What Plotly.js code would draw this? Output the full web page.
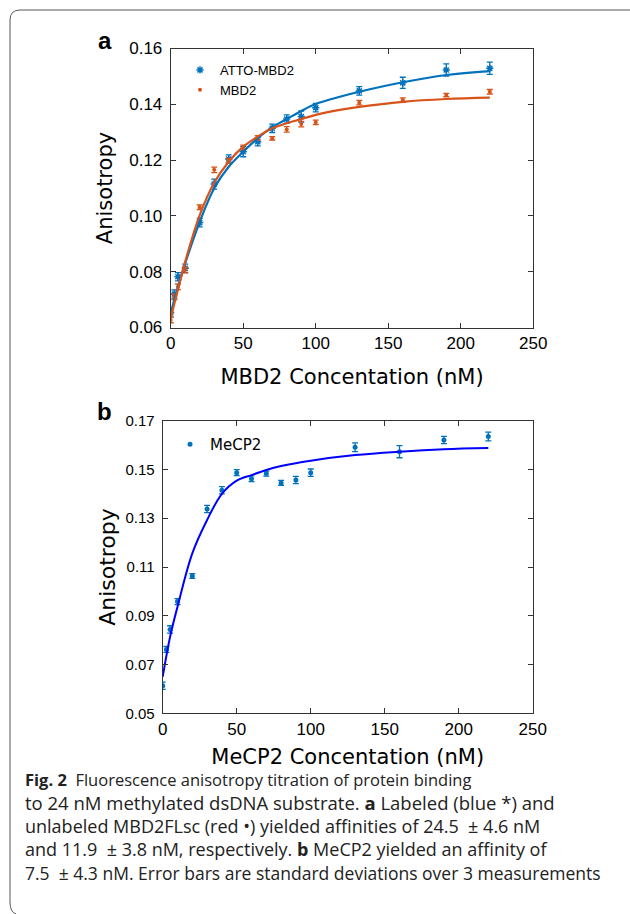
<!DOCTYPE html>
<html>
<head>
<meta charset="utf-8">
<script src="https://cdn.plot.ly/plotly-3.0.1.min.js"></script>
<style>html,body{margin:0;padding:0;background:#fff;}#chart{width:630px;height:914px;}</style>
</head>
<body>
<div id="chart"></div>
<script>
// ---------- Panel a data ----------
const concA = [0, 2.5, 5, 10, 20, 30, 40, 50, 60, 70, 80, 90, 100, 130, 160, 190, 220];
const attoMBD2 = [0.0653, 0.0720, 0.0782, 0.0812, 0.0976, 0.1114, 0.1204, 0.1230, 0.1266, 0.1314, 0.1347, 0.1356, 0.1388, 0.1448, 0.1477, 0.1523, 0.1529];
const attoErr  = [0.0015, 0.0015, 0.0015, 0.0015, 0.0015, 0.0018, 0.0015, 0.0018, 0.0015, 0.0015, 0.0015, 0.0020, 0.0015, 0.0015, 0.0020, 0.0022, 0.0022];
const mbd2 = [0.0627, 0.0710, 0.0746, 0.0806, 0.1031, 0.1165, 0.1198, 0.1246, 0.1280, 0.1278, 0.1310, 0.1329, 0.1335, 0.1406, 0.1415, 0.1433, 0.1445];
const mbd2Err = [0.0010, 0.0010, 0.0010, 0.0010, 0.0008, 0.0010, 0.0008, 0.0008, 0.0008, 0.0006, 0.0010, 0.0010, 0.0008, 0.0008, 0.0008, 0.0006, 0.0008];
// fitted curves
const fitAx = [0, 2.5, 5, 10, 20, 30, 40, 50, 60, 70, 80, 90, 100, 116.6, 130, 160, 190, 220];
const fitAtto = [0.0650, 0.0700, 0.0745, 0.0830, 0.0979, 0.1099, 0.1176, 0.1230, 0.1278, 0.1318, 0.1347, 0.1376, 0.1401, 0.1427, 0.1445, 0.1479, 0.1505, 0.1519];
const fitMbd2 = [0.0630, 0.0685, 0.0735, 0.0836, 0.1003, 0.1119, 0.1194, 0.1248, 0.1284, 0.1314, 0.1332, 0.1347, 0.1362, 0.1380, 0.1391, 0.1409, 0.1419, 0.1424];

// ---------- Panel b data ----------
const concB = [0, 2.5, 5, 10, 20, 30, 40, 50, 60, 70, 80, 90, 100, 130, 160, 190, 220];
const mecp2 = [0.0613, 0.0762, 0.0844, 0.0958, 0.1063, 0.1338, 0.1415, 0.1487, 0.1462, 0.1483, 0.1445, 0.1457, 0.1487, 0.1591, 0.1573, 0.1621, 0.1635];
const mecp2Err = [0.0015, 0.0012, 0.0015, 0.0012, 0.0010, 0.0015, 0.0015, 0.0012, 0.0012, 0.0010, 0.0010, 0.0015, 0.0015, 0.0018, 0.0025, 0.0015, 0.0018];
const fitBx = [0, 5, 10, 20, 30, 40, 50, 60, 70, 80, 100, 130, 160, 190, 220];
const fitMecp2 = [0.0650, 0.0814, 0.0937, 0.1156, 0.1293, 0.1400, 0.1454, 0.1477, 0.1498, 0.1514, 0.1536, 0.1559, 0.1573, 0.1583, 0.1588];

const xTicks = [0, 50, 100, 150, 200, 250];

const W = 630, H = 914;
const px = v => v / W;
const py = v => 1 - v / H;

const BLUE = '#0072BD', RED = '#D95319';
const tickFont = {family: 'Liberation Sans, Arial, sans-serif', size: 17, color: '#000'};
const titleFont = {family: 'DejaVu Sans, sans-serif', size: 21, color: '#000'};

const traces = [
  {x: concA, y: attoMBD2, type: 'scatter', mode: 'markers', name: 'ATTO-MBD2',
   xaxis: 'x', yaxis: 'y', legend: 'legend',
   marker: {symbol: 'asterisk-open', size: 6, color: BLUE, line: {color: BLUE, width: 1.5}},
   error_y: {type: 'data', array: attoErr, visible: true, color: BLUE, thickness: 1.3, width: 3}},
  {x: concA, y: mbd2, type: 'scatter', mode: 'markers', name: 'MBD2',
   xaxis: 'x', yaxis: 'y', legend: 'legend',
   marker: {symbol: 'circle', size: 4, color: RED},
   error_y: {type: 'data', array: mbd2Err, visible: true, color: RED, thickness: 1.3, width: 3}},
  {x: fitAx, y: fitAtto, type: 'scatter', mode: 'lines', showlegend: false, hoverinfo: 'skip',
   xaxis: 'x', yaxis: 'y', line: {color: BLUE, width: 2.2, shape: 'spline'}},
  {x: fitAx, y: fitMbd2, type: 'scatter', mode: 'lines', showlegend: false, hoverinfo: 'skip',
   xaxis: 'x', yaxis: 'y', line: {color: RED, width: 2.2, shape: 'spline'}},
  {x: concB, y: mecp2, type: 'scatter', mode: 'markers', name: 'MeCP2',
   xaxis: 'x2', yaxis: 'y2', legend: 'legend2',
   marker: {symbol: 'circle', size: 5, color: BLUE},
   error_y: {type: 'data', array: mecp2Err, visible: true, color: BLUE, thickness: 1.3, width: 3}},
  {x: fitBx, y: fitMecp2, type: 'scatter', mode: 'lines', showlegend: false, hoverinfo: 'skip',
   xaxis: 'x2', yaxis: 'y2', line: {color: '#0000FF', width: 2, shape: 'spline'}}
];

function axisBase() {
  return {
    showgrid: false, zeroline: false, showline: true, linecolor: '#333', linewidth: 1,
    mirror: 'ticks', ticks: 'inside', ticklen: 5, tickwidth: 1, tickcolor: '#333',
    tickfont: tickFont
  };
}

const layout = {
  width: W, height: H,
  margin: {l: 0, r: 0, t: 0, b: 0},
  paper_bgcolor: '#fff', plot_bgcolor: '#fff',
  showlegend: true,
  xaxis: Object.assign(axisBase(), {
    domain: [px(170.7), px(533.3)], range: [0, 250], tickvals: xTicks, anchor: 'y',
    title: {text: 'MBD2 Concentation (nM)', font: titleFont, standoff: 17}
  }),
  yaxis: Object.assign(axisBase(), {
    domain: [py(327.5), py(48.5)], range: [0.06, 0.16], tick0: 0.06, dtick: 0.02, tickformat: '.2f', anchor: 'x',
    ticklabelstandoff: 4,
    title: {text: 'Anisotropy', font: titleFont, standoff: 10}
  }),
  xaxis2: Object.assign(axisBase(), {
    domain: [px(162.7), px(532.7)], range: [0, 250], tickvals: xTicks, anchor: 'y2',
    title: {text: 'MeCP2 Concentation (nM)', font: titleFont, standoff: 11}
  }),
  yaxis2: Object.assign(axisBase(), {
    domain: [py(713.3), py(420.7)], range: [0.05, 0.17], tick0: 0.05, dtick: 0.02, tickformat: '.2f', anchor: 'x2',
    tickfont: {family: 'Liberation Sans, Arial, sans-serif', size: 15, color: '#000'},
    ticklabelstandoff: 4,
    title: {text: 'Anisotropy', font: {family: 'DejaVu Sans, sans-serif', size: 22, color: '#000'}, standoff: 3}
  }),
  legend: {x: px(180), y: py(55), xanchor: 'left', yanchor: 'top', bgcolor: 'rgba(0,0,0,0)',
           font: {family: 'Liberation Sans, Arial, sans-serif', size: 13, color: '#000'},
           tracegroupgap: 0, itemwidth: 30},
  legend2: {x: px(170), y: py(428), xanchor: 'left', yanchor: 'top', bgcolor: 'rgba(0,0,0,0)',
            font: {family: 'DejaVu Sans, sans-serif', size: 15, color: '#000'}, itemwidth: 30},
  shapes: [
    {type: 'path', xref: 'paper', yref: 'paper',
     path: 'M ' + px(630) + ' ' + py(10) + ' L ' + px(20) + ' ' + py(10) +
           ' Q ' + px(10) + ' ' + py(10) + ' ' + px(10) + ' ' + py(20) +
           ' L ' + px(10) + ' ' + py(902) +
           ' Q ' + px(10) + ' ' + py(912) + ' ' + px(16) + ' ' + py(914),
     line: {color: '#555', width: 1}}
  ],
  annotations: []
};

// panel letters
layout.annotations.push({text: '<b>a</b>', xref: 'paper', yref: 'paper', x: px(105), y: py(41), xanchor: 'center', yanchor: 'middle', showarrow: false,
  font: {family: 'Liberation Sans, Arial, sans-serif', size: 24, color: '#000'}});
layout.annotations.push({text: '<b>b</b>', xref: 'paper', yref: 'paper', x: px(104), y: py(411), xanchor: 'center', yanchor: 'middle', showarrow: false,
  font: {family: 'Liberation Sans, Arial, sans-serif', size: 24, color: '#000'}});

// caption
const captionLines = [
  '<b>Fig. 2</b>  Fluorescence anisotropy titration of protein binding',
  'to 24 nM methylated dsDNA substrate. <b>a</b> Labeled (blue *) and',
  'unlabeled MBD2FLsc (red •) yielded affinities of 24.5  ± 4.6 nM',
  'and 11.9  ± 3.8 nM, respectively. <b>b</b> MeCP2 yielded an affinity of',
  '7.5  ± 4.3 nM. Error bars are standard deviations over 3 measurements'
];
const captionY = [779, 802, 826, 849, 873];
const captionSize = [16.5, 18.5, 18, 18, 17.5];
captionLines.forEach((t, i) => {
  layout.annotations.push({text: t, xref: 'paper', yref: 'paper', x: px(23), y: py(captionY[i]), xanchor: 'left', yanchor: 'middle',
    showarrow: false, align: 'left', font: {family: 'Open Sans, sans-serif', size: captionSize[i], color: '#222'}});
});

Plotly.newPlot('chart', traces, layout, {displayModeBar: false, staticPlot: true});
</script>
</body>
</html>
